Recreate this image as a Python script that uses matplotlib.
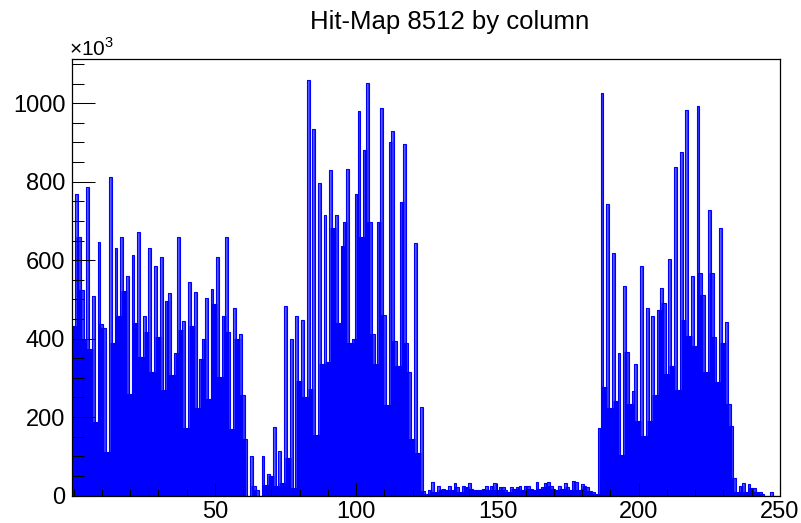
import numpy as np
import matplotlib
matplotlib.use("Agg")
import matplotlib.pyplot as plt
from matplotlib.ticker import MultipleLocator, FixedLocator

plt.rcParams['font.family'] = ['Liberation Sans', 'DejaVu Sans']
plt.rcParams['mathtext.fontset'] = 'custom'
plt.rcParams['mathtext.rm'] = 'Liberation Sans'

title = "Hit-Map 8512 by column"

# hits per column, in units of 10^3 (columns 0..249)
hits_0_83 = [433, 769, 659, 525, 396, 786, 374, 508, 188, 647,
             436, 428, 112, 812, 390, 630, 458, 659, 521, 559,
             260, 613, 441, 672, 353, 457, 416, 630, 316, 584,
             404, 608, 268, 496, 516, 306, 362, 659, 421, 445,
             171, 545, 433, 520, 222, 348, 399, 503, 247, 526,
             488, 609, 302, 457, 659, 416, 170, 478, 399, 412,
             256, 144, 0, 100, 24, 15, 0, 100, 28, 54,
             49, 175, 24, 113, 32, 482, 96, 399, 20, 457,
             291, 448, 250, 1059]
hits_84_123 = [272, 934, 153, 797, 336, 715, 340, 829, 682, 714,
               440, 636, 696, 832, 390, 400, 768, 979, 659, 881,
               1051, 696, 412, 336, 696, 987, 461, 231, 900, 930,
               393, 331, 749, 896, 390, 314, 143, 643, 109, 226]
hits_124_185 = [11, 4, 14, 34, 8, 23, 14, 17, 14, 23,
                14, 31, 21, 8, 25, 21, 31, 17, 14, 13,
                14, 17, 23, 13, 23, 31, 14, 21, 21, 14,
                8, 21, 17, 21, 23, 13, 23, 25, 17, 14,
                34, 17, 21, 31, 34, 23, 17, 13, 23, 17,
                31, 21, 14, 37, 34, 14, 30, 24, 21, 11,
                8, 5]
hits_186_218 = [172, 1027, 277, 744, 222, 618, 240, 363, 104, 533,
                365, 234, 266, 336, 189, 586, 151, 478, 189, 457,
                257, 472, 529, 490, 311, 603, 331, 837, 268, 876,
                448, 983, 407]
hits_219_249 = [560, 380, 992, 568, 510, 314, 728, 568, 404, 289,
                681, 389, 442, 234, 178, 45, 8, 24, 32, 10,
                30, 18, 20, 10, 8, 3, 0, 0, 10, 0,
                0]

hits = np.array(hits_0_83 + hits_84_123 + hits_124_185 + hits_186_218 + hits_219_249, dtype=float)
columns = np.arange(len(hits))

x_ticks = [50, 100, 150, 200, 250]
y_ticks = [0, 200, 400, 600, 800, 1000]
multiplier = r"$\times10^{3}$"

blue = "#0000ff"

fig = plt.figure(figsize=(8.01, 5.23), dpi=100)
ax = fig.add_axes([72.2 / 801, (523 - 495.5) / 523, (780 - 72.2) / 801, (495.5 - 59.3) / 523])

edges = np.append(columns - 0.5, columns[-1] + 0.5)
ax.stairs(hits, edges, fill=True, color=blue, linewidth=0, zorder=1)

# thin white seam just left of each rise (ROOT rendering look)
left = hits[:-1]
right = hits[1:]
inner = edges[1:-1]
xs = np.where(right > left, inner + 0.3, inner - 0.3)
lo = np.minimum(left, right)
hi = np.maximum(left, right)
mask = (hi - lo) > 2
ax.vlines(xs[mask], lo[mask], hi[mask], colors="white", linewidth=0.3, zorder=2)

ax.stairs(hits, edges, fill=False, color=blue, linewidth=0.8, zorder=2.2)

ax.set_xlim(-0.5, 250)
ax.set_ylim(0, 1112)
ax.set_axisbelow(False)

ax.xaxis.set_major_locator(FixedLocator(x_ticks))
ax.xaxis.set_minor_locator(MultipleLocator(10))
ax.yaxis.set_major_locator(FixedLocator(y_ticks))
ax.yaxis.set_minor_locator(MultipleLocator(50))
ax.set_xticklabels([str(t) for t in x_ticks])
ax.set_yticklabels([str(t) for t in y_ticks])

ax.tick_params(axis='x', which='major', direction='in', length=9.5, width=0.75,
               labelsize=17, pad=4, colors='black')
ax.tick_params(axis='x', which='minor', direction='in', length=4.8, width=0.75)
ax.tick_params(axis='y', which='major', direction='in', length=16.5, width=0.75,
               labelsize=17, pad=5)
ax.tick_params(axis='y', which='minor', direction='in', length=8.6, width=0.75)

for s in ax.spines.values():
    s.set_linewidth(0.9)
    s.set_color('black')

fig.text(449.5 / 801, 1 - 22 / 523, title, ha='center', va='center', fontsize=18.5)
fig.text(69 / 801, 1 - 56 / 523, multiplier, ha='left', va='baseline', fontsize=15)

fig.savefig("out.png", dpi=100, facecolor='white')
